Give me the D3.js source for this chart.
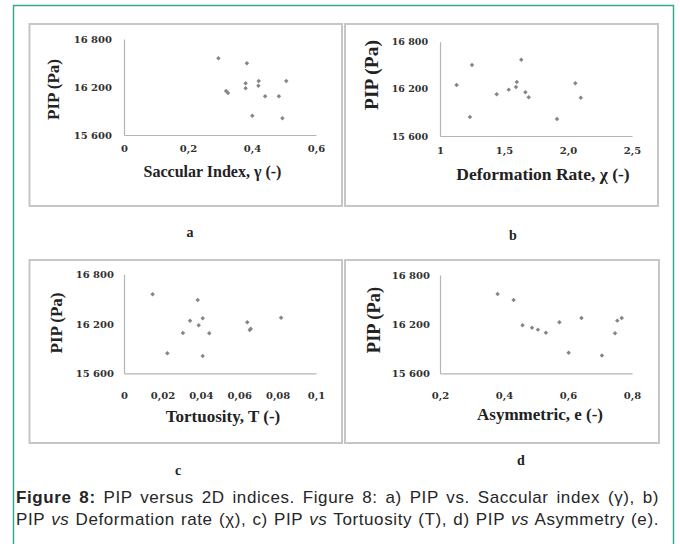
<!DOCTYPE html>
<html><head><meta charset="utf-8">
<script src="https://cdn.jsdelivr.net/npm/d3@7"></script>
<style>
html,body{margin:0;padding:0;background:#fff;}
#wrap{position:relative;width:680px;height:544px;overflow:hidden;}
svg{position:absolute;left:0;top:0;}
.cap{position:absolute;left:16px;width:643px;font-family:"Liberation Sans",Arial,sans-serif;font-size:17px;line-height:19px;letter-spacing:0.6px;color:#262626;text-align:justify;text-align-last:justify;white-space:nowrap;}
</style></head>
<body><div id="wrap"></div>
<script>
// ---- data (PIP in Pa) ----
const yTickValues = [15600, 16200, 16800];
const yTickLabels = ["15 600", "16 200", "16 800"];

const saccularIndex = [0.295,0.384,0.380,0.380,0.421,0.420,0.507,0.319,0.325,0.441,0.484,0.401,0.495];
const pipA          = [16559,16496,16246,16184,16275,16216,16275,16150,16125,16084,16084,15841,15809];
const xTicksA = [0, 0.2, 0.4, 0.6];
const xLabelsA = ["0", "0,2", "0,4", "0,6"];

const deformationRate = [1.13,1.25,1.234,1.443,1.537,1.594,1.60,1.635,1.667,1.693,1.914,2.057,2.10];
const pipB            = [16249,16504,15842,16131,16190,16224,16287,16571,16156,16093,15817,16271,16088];
const xTicksB = [1, 1.5, 2.0, 2.5];
const xLabelsB = ["1", "1,5", "2,0", "2,5"];

const tortuosity = [0.0149,0.0384,0.0344,0.0410,0.0389,0.0307,0.0444,0.0226,0.0410,0.0642,0.0655,0.0660,0.0818];
const pipC       = [16558,16489,16238,16267,16182,16089,16085,15842,15810,16218,16125,16141,16274];
const xTicksC = [0, 0.02, 0.04, 0.06, 0.08, 0.1];
const xLabelsC = ["0", "0,02", "0,04", "0,06", "0,08", "0,1"];

const asymmetric = [0.380,0.430,0.458,0.4875,0.506,0.531,0.573,0.602,0.642,0.706,0.747,0.754,0.768];
const pipD       = [16568,16495,16186,16157,16133,16096,16223,15852,16275,15816,16089,16243,16275];
const xTicksD = [0.2, 0.4, 0.6, 0.8];
const xLabelsD = ["0,2", "0,4", "0,6", "0,8"];

const xTitles = ["Saccular Index, \u03b3 (-)", "Deformation Rate, \u03c7 (-)", "Tortuosity, T (-)", "Asymmetric, e (-)"];
const yTitle = "PIP (Pa)";
const panelLetters = ["a", "b", "c", "d"];
const captionLine1 = ["<b>Figure 8:</b> PIP versus 2D indices. Figure 8: a) PIP vs. Saccular index (\u03b3), b)"];
const captionLine2 = ["PIP <i>vs</i> Deformation rate (\u03c7), c) PIP <i>vs</i> Tortuosity (T), d) PIP <i>vs</i> Asymmetry (e)."];

// ---- layout ----
const panels = [
  {xs:saccularIndex, ys:pipA, xt:xTicksA, xl:xLabelsA, xd:[0,0.6], title:xTitles[0], letter:panelLetters[0],
   box:[29.5,24,342,206], px:[124,316], py:[135,39], ytx:112, ytFs:10, xtY:151.5, xtFs:10,
   ttl:[212.5,176.7,16], ylab:[59,89.5,17], let:[190,237]},
  {xs:deformationRate, ys:pipB, xt:xTicksB, xl:xLabelsB, xd:[1,2.5], title:xTitles[1], letter:panelLetters[1],
   box:[345,24,658,206], px:[440,632], py:[136,41.7], ytx:428, ytFs:9.5, xtY:154, xtFs:10,
   ttl:[543,180,17.5], ylab:[378,75,19.5], let:[513,240]},
  {xs:tortuosity, ys:pipC, xt:xTicksC, xl:xLabelsC, xd:[0,0.1], title:xTitles[2], letter:panelLetters[2],
   box:[29.5,260,342,443], px:[124,316], py:[373.3,274.3], ytx:114, ytFs:10, xtY:398.7, xtFs:10,
   ttl:[223,421.7,17], ylab:[62,323,17], let:[178,475]},
  {xs:asymmetric, ys:pipD, xt:xTicksD, xl:xLabelsD, xd:[0.2,0.8], title:xTitles[3], letter:panelLetters[3],
   box:[345,260,659,443], px:[440,632], py:[373.3,275], ytx:430, ytFs:10, xtY:398.7, xtFs:10,
   ttl:[540,420,17], ylab:[380,320,18.5], let:[521,465]}
];

const svg = d3.select("#wrap").append("svg").attr("width",680).attr("height",544);
const serif = "'Liberation Serif','Times New Roman',serif";
const tickFont = "'DejaVu Serif',serif";

// outer teal frame
svg.append("rect").attr("x",13.5).attr("y",5.5).attr("width",660).attr("height",560)
  .attr("fill","none").attr("stroke","#35a98f").attr("stroke-width",1.5);

panels.forEach(p => {
  const g = svg.append("g");
  g.append("rect").attr("x",p.box[0]).attr("y",p.box[1]).attr("width",p.box[2]-p.box[0]).attr("height",p.box[3]-p.box[1])
    .attr("fill","#fff").attr("stroke","#c6c6c6").attr("stroke-width",2);
  const x = d3.scaleLinear().domain(p.xd).range(p.px);
  const y = d3.scaleLinear().domain([15600,16800]).range(p.py);

  const yAxis = d3.axisLeft(y).tickValues(yTickValues).tickFormat((d,i)=>yTickLabels[i]).tickSize(0).tickPadding(0);
  const ya = g.append("g").attr("transform",`translate(${p.px[0]},0)`).call(yAxis);
  ya.select(".domain").attr("stroke","#b4b4b4").attr("stroke-width",1.2);
  ya.selectAll("text").attr("x",p.ytx - p.px[0]).attr("font-family",tickFont).attr("font-weight","bold")
    .attr("font-size",p.ytFs).attr("fill","#303030");

  const xAxis = d3.axisBottom(x).tickValues(p.xt).tickFormat((d,i)=>p.xl[i]).tickSize(0).tickPadding(0);
  const xa = g.append("g").attr("transform",`translate(0,${p.py[0]})`).call(xAxis);
  xa.select(".domain").attr("stroke","#b4b4b4").attr("stroke-width",1.2);
  xa.selectAll("text").attr("y",p.xtY - p.py[0]).attr("dy",0).attr("font-family",tickFont).attr("font-weight","bold")
    .attr("font-size",p.xtFs).attr("fill","#303030");

  g.selectAll("path.pt").data(p.xs.map((v,i)=>[v,p.ys[i]])).enter().append("path").attr("class","pt")
    .attr("d", d3.symbol(d3.symbolSquare, 10)())
    .attr("transform", d => `translate(${x(d[0])},${y(d[1])}) rotate(45)`)
    .attr("fill","#858585");

  g.append("text").attr("x",p.ttl[0]).attr("y",p.ttl[1]).attr("text-anchor","middle")
    .attr("font-family",serif).attr("font-weight","bold").attr("font-size",p.ttl[2]).attr("fill","#222").text(p.title);
  g.append("text").attr("transform",`translate(${p.ylab[0]},${p.ylab[1]}) rotate(-90)`).attr("text-anchor","middle")
    .attr("font-family",serif).attr("font-weight","bold").attr("font-size",p.ylab[2]).attr("fill","#222").text(yTitle);
  svg.append("text").attr("x",p.let[0]).attr("y",p.let[1]).attr("text-anchor","middle")
    .attr("font-family",serif).attr("font-weight","bold").attr("font-size",14).attr("fill","#222").text(p.letter);
});

d3.select("#wrap").append("div").attr("class","cap").style("top","488px").html(captionLine1[0]);
d3.select("#wrap").append("div").attr("class","cap").style("top","510px").html(captionLine2[0]);
</script></body></html>
